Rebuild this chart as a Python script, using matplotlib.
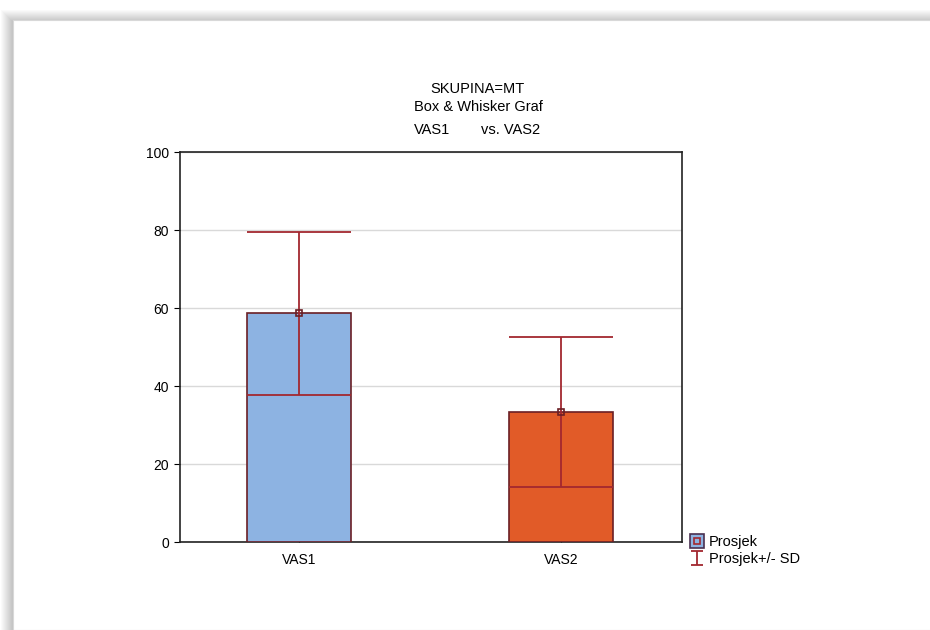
import numpy as np
import matplotlib.pyplot as plt
from matplotlib.lines import Line2D
from matplotlib.patches import Rectangle

plt.rcParams['font.family'] = ['Liberation Sans', 'DejaVu Sans']

# data
groups = ['VAS1', 'VAS2']
means = [58.6, 33.3]
sds = [20.9, 19.3]
bar_colors = ['#8DB3E2', '#E15B28']
title_lines = ['SKUPINA=MT', 'Box & Whisker Graf']

edge = '#6B1F25'
whisk = '#A3282F'

fig = plt.figure(figsize=(9.3, 6.3), dpi=100)

# window frame with soft shadow (top and left)
W, H = 930, 630
for i in range(12):
    fig.patches.append(Rectangle(((13 - 12 + i) / W, 0), 1, (H - 20 + 10 - i) / H,
                                 transform=fig.transFigure, facecolor='black',
                                 alpha=0.018, edgecolor='none', zorder=0))
fig.patches.append(Rectangle((13 / W, 0), 1, (H - 20) / H, transform=fig.transFigure,
                             facecolor='white', edgecolor='#d8d8d8', lw=0.8, zorder=1))

ax = fig.add_axes([180 / W, (H - 542) / H, 502 / W, 390 / H])
ax.set_zorder(2)
x = list(range(len(groups)))

ax.bar(x, means, width=0.4, color=bar_colors, edgecolor=edge, linewidth=1.2, zorder=3)
ax.errorbar(x, means, yerr=sds, fmt='none', ecolor=whisk, elinewidth=1.3,
            capsize=37.8, capthick=1.3, zorder=4)
ax.plot(x, means, 's', ms=5, mfc='none', mec=edge, mew=1.2, zorder=5)
# proxy only for the legend entry (small caps)
sd_proxy = ax.errorbar([np.nan], [np.nan], yerr=[1], fmt='none', ecolor=whisk,
                       elinewidth=1.3, capsize=4, capthick=1.3)

ax.set_xlim(-0.454, 1.462)
ax.set_ylim(0, 100)
ax.set_yticks([0, 20, 40, 60, 80, 100])
ax.set_xticks(x)
ax.set_xticklabels(groups)
ax.yaxis.grid(True, color='#d9d9d9', lw=1)
ax.set_axisbelow(True)
ax.tick_params(axis='y', direction='out', length=4, labelsize=10, pad=4)
ax.tick_params(axis='x', direction='in', length=3, labelsize=10, pad=8)
for s in ax.spines.values():
    s.set_linewidth(1.2)
    s.set_color('#222222')

# titles
fig.text(477 / W, 1 - 89 / H, title_lines[0], ha='center', va='center', fontsize=10.5)
fig.text(478 / W, 1 - 107 / H, title_lines[1], ha='center', va='center', fontsize=10.5)
fig.text(432 / W, 1 - 130 / H, groups[0], ha='center', va='center', fontsize=10.5)
fig.text(511 / W, 1 - 130 / H, 'vs. ' + groups[1], ha='center', va='center', fontsize=10.5)

# legend
h_mean = (Line2D([], [], ls='none', marker='s', ms=10, mfc=bar_colors[0], mec='#4a3050', mew=1.2),
          Line2D([], [], ls='none', marker='s', ms=5, mfc='none', mec=whisk, mew=1.2))
leg = ax.legend([h_mean, sd_proxy], ['Prosjek', 'Prosjek+/- SD'], loc='upper left',
                bbox_to_anchor=(1.005, 0.032), frameon=False, fontsize=10.5,
                handlelength=0.9, handletextpad=0.35, labelspacing=0.2, borderaxespad=0)

fig.savefig('out.png', dpi=100)
